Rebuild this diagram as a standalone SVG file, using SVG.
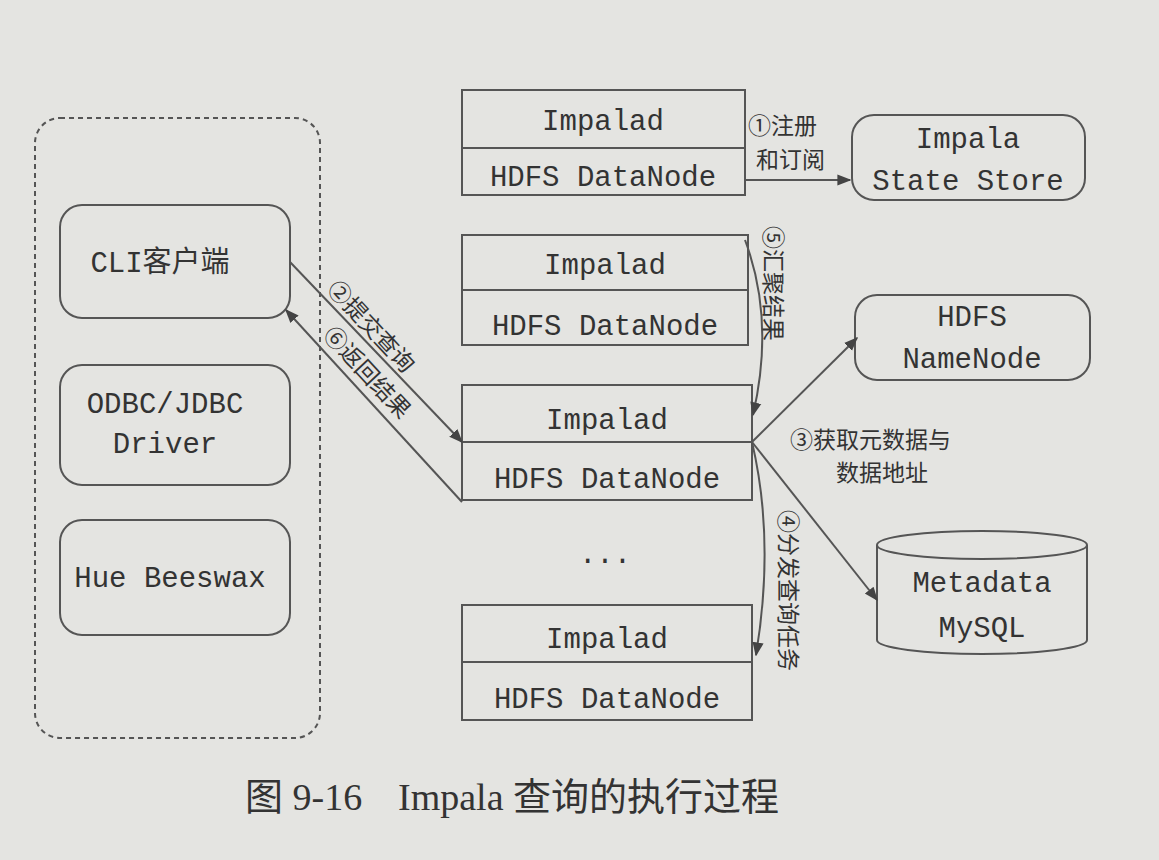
<svg xmlns="http://www.w3.org/2000/svg" width="1159" height="860" viewBox="0 0 1159 860">
<defs>
<marker id="ar" viewBox="0 0 10 10" refX="9" refY="5" markerWidth="7" markerHeight="7" orient="auto"><path d="M0,1 L10,5 L0,9 z" fill="#444"/></marker>
<style>
.b{fill:none;stroke:#555;stroke-width:2}
.t{font-family:"Liberation Mono","Noto Sans CJK SC",monospace;font-size:29px;fill:#333;text-anchor:middle}
.c{font-family:"Noto Sans CJK SC",sans-serif;font-size:23px;fill:#333}
.l{fill:none;stroke:#555;stroke-width:2}
</style>
</defs>
<rect width="1159" height="860" fill="#e4e4e1"/>
<g id="clients">
<rect x="35" y="118" width="285" height="620" rx="25" class="b" stroke-dasharray="5,4"/>
<g id="cli"><rect x="60" y="205" width="230" height="113" rx="22" class="b"/><text x="160" y="272" class="t">CLI客户端</text></g>
<g id="odbc"><rect x="60" y="365" width="230" height="120" rx="22" class="b"/><text x="165" y="413" class="t">ODBC/JDBC</text><text x="165" y="453" class="t">Driver</text></g>
<g id="hue"><rect x="60" y="520" width="230" height="115" rx="22" class="b"/><text x="170" y="587" class="t">Hue Beeswax</text></g>
</g>
<g id="imp1"><rect x="462" y="90" width="283" height="105" class="b"/><line x1="462" y1="148" x2="745" y2="148" class="b"/><text x="603" y="130" class="t">Impalad</text><text x="603" y="186" class="t">HDFS DataNode</text></g>
<g id="imp2"><rect x="462" y="235" width="286" height="110" class="b"/><line x1="462" y1="290" x2="748" y2="290" class="b"/><text x="605" y="274" class="t">Impalad</text><text x="605" y="335" class="t">HDFS DataNode</text></g>
<g id="imp3"><rect x="462" y="385" width="290" height="115" class="b"/><line x1="462" y1="442" x2="752" y2="442" class="b"/><text x="607" y="429" class="t">Impalad</text><text x="607" y="488" class="t">HDFS DataNode</text></g>
<text x="605" y="563" class="t">...</text>
<g id="imp4"><rect x="462" y="605" width="290" height="115" class="b"/><line x1="462" y1="662" x2="752" y2="662" class="b"/><text x="607" y="648" class="t">Impalad</text><text x="607" y="708" class="t">HDFS DataNode</text></g>
<g id="ss"><rect x="852" y="115" width="233" height="85" rx="22" class="b"/><text x="968" y="148" class="t">Impala</text><text x="968" y="190" class="t">State Store</text></g>
<g id="nn"><rect x="855" y="295" width="235" height="85" rx="22" class="b"/><text x="972" y="326" class="t">HDFS</text><text x="972" y="368" class="t">NameNode</text></g>
<g id="meta"><path d="M877,545 L877,640 A105,14 0 0 0 1087,640 L1087,545" class="b"/><ellipse cx="982" cy="545" rx="105" ry="14" class="b"/><text x="982" y="592" class="t">Metadata</text><text x="982" y="637" class="t">MySQL</text></g>
<g id="connectors">
<line x1="745" y1="180" x2="850" y2="180" class="l" marker-end="url(#ar)"/>
<line x1="290" y1="262" x2="462" y2="442" class="l" marker-end="url(#ar)"/>
<line x1="462" y1="502" x2="286" y2="310" class="l" marker-end="url(#ar)"/>
<path d="M745,240 Q775,320 753,415" class="l" marker-end="url(#ar)"/>
<path d="M752,442 Q775,540 756,655" class="l" marker-end="url(#ar)"/>
<line x1="752" y1="442" x2="857" y2="338" class="l" marker-end="url(#ar)"/>
<line x1="752" y1="442" x2="877" y2="600" class="l" marker-end="url(#ar)"/>
</g>
<g id="labels">
<text x="748" y="134" class="c">①注册</text><text x="756" y="168" class="c">和订阅</text>
<text x="790" y="448" class="c">③获取元数据与</text><text x="836" y="481" class="c">数据地址</text>
<text class="c" transform="translate(765,226) rotate(90)">⑤汇聚结果</text>
<text class="c" transform="translate(780,510) rotate(90)">④分发查询任务</text>
<text class="c" transform="translate(326,290) rotate(47)">②提交查询</text>
<text class="c" transform="translate(322,336) rotate(47)">⑥返回结果</text>
</g>
<text x="245" y="810" font-family="'Liberation Serif','Noto Sans CJK SC',serif" font-size="38" fill="#333">图 9-16<tspan x="398">Impala 查询的执行过程</tspan></text>
</svg>
